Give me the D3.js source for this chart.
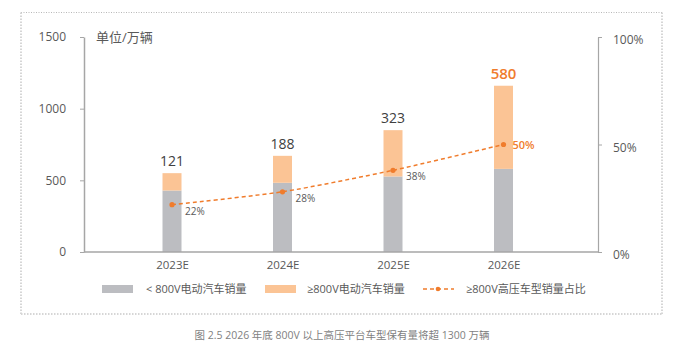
<!DOCTYPE html>
<html><head><meta charset="utf-8">
<script src="https://cdn.jsdelivr.net/npm/d3@7"></script>
<style>body{margin:0;background:#fff}svg{display:block}text{font-family:"Open Sans","Noto Sans CJK SC",sans-serif}</style>
</head><body><svg id="c" width="681" height="350"></svg>
<script>
const categories = ["2023E","2024E","2025E","2026E"];
const lowSales = [429, 483, 527, 580];
const highSales = [121, 188, 323, 580];
const shareValues = [0.22, 0.28, 0.38, 0.50];
const shareLabels = ["22%","28%","38%","50%"];
const leftTicks = [0, 500, 1000, 1500];
const rightTicks = [0, 0.5, 1];
const rightTickLabels = ["0%","50%","100%"];
const legendLabels = ["< 800V电动汽车销量","≥800V电动汽车销量","≥800V高压车型销量占比"];
const unitLabel = "单位/万辆";
const caption = "图 2.5 2026 年底 800V 以上高压平台车型保有量将超 1300 万辆";

const svg = d3.select("#c");
const grey = "#bcbdc1", peach = "#fbc495", orange = "#f07c2c", axisC = "#a6a6a6", txt = "#595959";
const L = 84, R = 598, T = 37, B = 252;

// frame
const frame = svg.append("g");
frame.append("line").attr("x1",21).attr("x2",662).attr("y1",12.5).attr("y2",12.5).attr("stroke","#b8b8b8").attr("stroke-dasharray","1,1.5");
[[21,12.5,21,314],[662,12.5,662,314],[21,314,662,314]].forEach(d=>{
  frame.append("line").attr("x1",d[0]).attr("y1",d[1]).attr("x2",d[2]).attr("y2",d[3]).attr("stroke","#d6d6d6").attr("stroke-width",2).attr("stroke-dasharray","1.5,1.5");
});

const x = d3.scalePoint().domain(categories).range([172, 503.5]);
const y = d3.scaleLinear().domain([0,1500]).range([B,T]);
const y2 = d3.scaleLinear().domain([0,1]).range([B,T]);
const bw = 19;

// axes
const ga = svg.append("g").attr("transform",`translate(${L},0)`).call(d3.axisLeft(y).tickValues(leftTicks).tickFormat(d3.format("d")).tickSize(4).tickSizeOuter(0));
ga.select(".domain").attr("stroke",axisC).attr("stroke-width",1.5);
ga.selectAll(".tick line").attr("stroke",axisC);
ga.selectAll(".tick text").attr("fill",txt).attr("font-size",12).attr("x",-18);

const gr = svg.append("g").attr("transform",`translate(${R},0)`).call(d3.axisRight(y2).tickValues(rightTicks).tickFormat((d,i)=>rightTickLabels[i]).tickSize(4).tickSizeOuter(0));
gr.select(".domain").attr("stroke",axisC).attr("stroke-width",1.2);
gr.selectAll(".tick line").attr("stroke",axisC);
gr.selectAll(".tick text").attr("fill",txt).attr("font-size",12).attr("x",15).attr("dy","0.55em");

svg.append("text").attr("x",96).attr("y",42).attr("fill",txt).attr("font-size",13).text(unitLabel);

// bars
const g = svg.append("g");
categories.forEach((c,i)=>{
  g.append("rect").attr("x",x(c)-bw/2).attr("width",bw).attr("y",y(lowSales[i])).attr("height",B-y(lowSales[i])).attr("fill",grey);
  g.append("rect").attr("x",x(c)-bw/2).attr("width",bw).attr("y",y(lowSales[i]+highSales[i])).attr("height",y(lowSales[i])-y(lowSales[i]+highSales[i])).attr("fill",peach);
  const last = i===categories.length-1;
  g.append("text").attr("x",x(c)).attr("y",y(lowSales[i]+highSales[i])-7).attr("text-anchor","middle")
    .attr("font-size",last?15:14).attr("font-weight",last?600:400).attr("fill",last?orange:"#404040").text(highSales[i]);
});

// x axis
const gx = svg.append("g").attr("transform",`translate(0,${B})`).call(d3.axisBottom(x).tickSize(0));
gx.select(".domain").attr("d",`M${L},0H${R}`).attr("stroke",axisC).attr("stroke-width",1.5);
gx.selectAll(".tick text").attr("fill",txt).attr("font-size",11.5).attr("dy","1.25em");

// line
const pts = categories.map((c,i)=>[x(c), y2(shareValues[i])]);
svg.append("path").attr("d",d3.line().curve(d3.curveCardinal.tension(0.3))(pts)).attr("fill","none").attr("stroke",orange).attr("stroke-width",1.5).attr("stroke-dasharray","4,3");
pts.forEach((p,i)=>{
  svg.append("circle").attr("cx",p[0]).attr("cy",p[1]).attr("r",2.6).attr("fill",orange);
  const last = i===pts.length-1;
  svg.append("text").attr("x",p[0]+(last?9:13)).attr("y",last?p[1]+4:p[1]+10).attr("font-size",last?11:10)
    .attr("font-weight",last?600:400).attr("fill",last?orange:txt).text(shareLabels[i]);
});

// legend
const lg = svg.append("g");
lg.append("rect").attr("x",102).attr("y",285).attr("width",31).attr("height",8).attr("fill",grey);
lg.append("text").attr("x",146).attr("y",293).attr("font-size",11).attr("fill",txt).text(legendLabels[0]);
lg.append("rect").attr("x",265).attr("y",285).attr("width",31).attr("height",8).attr("fill",peach);
lg.append("text").attr("x",307).attr("y",293).attr("font-size",11).attr("fill",txt).text(legendLabels[1]);
lg.append("line").attr("x1",423).attr("x2",454).attr("y1",289).attr("y2",289).attr("stroke",orange).attr("stroke-width",1.3).attr("stroke-dasharray","4,3");
lg.append("circle").attr("cx",438).attr("cy",289).attr("r",2.3).attr("fill",orange);
lg.append("text").attr("x",466).attr("y",293).attr("font-size",11).attr("fill",txt).text(legendLabels[2]);

svg.append("text").attr("x",342).attr("y",339).attr("text-anchor","middle").attr("font-size",10.5).attr("fill","#7f7f7f").text(caption);
</script></body></html>
